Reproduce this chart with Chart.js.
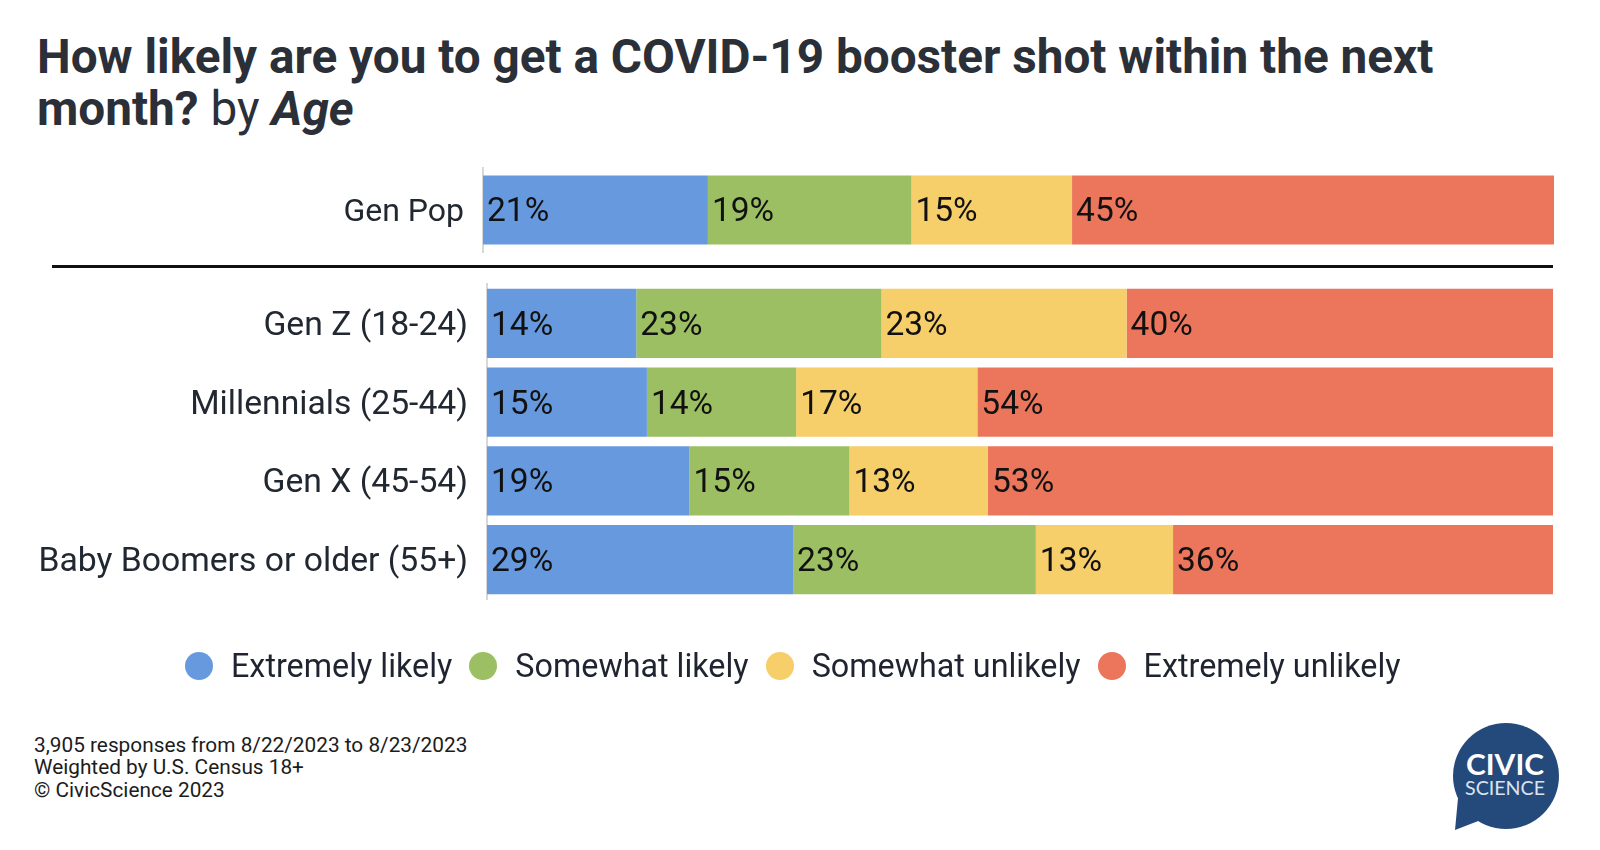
<!DOCTYPE html>
<html>
<head>
<meta charset="utf-8">
<script src="https://cdn.jsdelivr.net/npm/chart.js@4.4.0/dist/chart.umd.min.js"></script>
<style>
  html, body { margin: 0; padding: 0; background: #ffffff; }
  body { width: 1600px; height: 850px; position: relative; overflow: hidden; font-family: Roboto, "Noto Sans", sans-serif; }
  #title { position: absolute; left: 37px; top: 31px; font-size: 47.7px; line-height: 52px; font-weight: 700; color: #2b2f38; white-space: nowrap; }
  #title .by { font-weight: 400; }
  #title .age { font-style: italic; font-weight: 700; }
  #c1 { position: absolute; left: 0; top: 118px; }
  #c2 { position: absolute; left: 0; top: 234px; }
  #sep { position: absolute; left: 52px; top: 265px; width: 1501px; height: 3px; background: #111111; }
  #legend { position: absolute; left: 185px; top: 645px; height: 41px; display: flex; align-items: center; }
  .li { display: flex; align-items: center; margin-right: 17px; }
  .dot { width: 28px; height: 28px; border-radius: 50%; margin-right: 18px; }
  .lt { font-size: 32.3px; color: #1f2430; white-space: nowrap; }
  #footer { position: absolute; left: 34px; top: 734px; font-size: 20.8px; line-height: 22.3px; color: #1c1c1c; }
  #logo { position: absolute; left: 1440px; top: 700px; }
</style>
</head>
<body>
<div id="title">How likely are you to get a COVID-19 booster shot within the next<br>month? <span class="by">by</span> <span class="age">Age</span></div>
<div id="sep"></div>
<canvas id="c1" width="1600" height="184"></canvas>
<canvas id="c2" width="1600" height="415"></canvas>
<div id="legend"></div>
<div id="footer">3,905 responses from 8/22/2023 to 8/23/2023<br>Weighted by U.S. Census 18+<br>© CivicScience 2023</div>
<svg id="logo" width="140" height="140" viewBox="1440 700 140 140">
  <circle cx="1506" cy="776" r="53" fill="#244a7b"/>
  <path d="M1458 798 L1455 830 L1486 818 Z" fill="#244a7b"/>
  <text x="1505" y="775" text-anchor="middle" font-family="Lato, 'Open Sans', sans-serif" font-weight="700" font-size="28" fill="#ffffff" textLength="78" lengthAdjust="spacingAndGlyphs">CIVIC</text>
  <text x="1505" y="795" text-anchor="middle" font-family="Lato, 'Open Sans', sans-serif" font-weight="400" font-size="19" fill="#dbe3ee" textLength="80" lengthAdjust="spacingAndGlyphs">SCIENCE</text>
</svg>
<script>
// ---- data ----
const seriesNames = ['Extremely likely', 'Somewhat likely', 'Somewhat unlikely', 'Extremely unlikely'];
const seriesColors = ['#6799de', '#9bbf62', '#f6ce6a', '#ec765b'];

const totalCategories = ['Gen Pop'];
const genPopValues = [21, 19, 15, 45]; // one value per series

const ageCategories = ['Gen Z (18-24)', 'Millennials (25-44)', 'Gen X (45-54)', 'Baby Boomers or older (55+)'];
const extremelyLikely   = [14, 15, 19, 29];
const somewhatLikely    = [23, 14, 15, 23];
const somewhatUnlikely  = [23, 17, 13, 13];
const extremelyUnlikely = [40, 54, 53, 36];
const ageSeries = [extremelyLikely, somewhatLikely, somewhatUnlikely, extremelyUnlikely];

// ---- legend ----
const legendEl = document.getElementById('legend');
seriesNames.forEach((n, i) => {
  const item = document.createElement('div'); item.className = 'li';
  const d = document.createElement('div'); d.className = 'dot'; d.style.background = seriesColors[i];
  const t = document.createElement('div'); t.className = 'lt'; t.textContent = n;
  item.appendChild(d); item.appendChild(t); legendEl.appendChild(item);
});

// ---- label plugin ----
const segLabels = {
  id: 'segLabels',
  afterDatasetsDraw(chart) {
    const ctx = chart.ctx;
    ctx.save();
    ctx.font = '400 33.5px Roboto, "Noto Sans", sans-serif';
    ctx.fillStyle = '#111111';
    ctx.textAlign = 'left';
    ctx.textBaseline = 'middle';
    chart.data.datasets.forEach((ds, i) => {
      const meta = chart.getDatasetMeta(i);
      meta.data.forEach((bar, j) => {
        const left = Math.min(bar.x, bar.base);
        ctx.fillText(ds.shown[j] + '%', left + 4, bar.y + 3);
      });
    });
    ctx.restore();
  }
};

function makeChart(canvasId, labels, rows, axisWidth, rightPad, catPct, labelSize) {
  const totals = labels.map((_, j) => rows.reduce((s, r) => s + r[j], 0));
  const datasets = rows.map((r, i) => ({
    label: seriesNames[i],
    data: r.map((v, j) => v / totals[j] * 100),
    shown: r,
    backgroundColor: seriesColors[i],
    borderWidth: 0,
    barPercentage: 1,
    categoryPercentage: catPct
  }));
  return new Chart(document.getElementById(canvasId), {
    type: 'bar',
    data: { labels: labels, datasets: datasets },
    options: {
      indexAxis: 'y',
      responsive: false,
      animation: false,
      devicePixelRatio: 1,
      layout: { padding: { top: 50, bottom: 50, left: 0, right: rightPad } },
      plugins: { legend: { display: false }, tooltip: { enabled: false } },
      scales: {
        x: { stacked: true, min: 0, max: 100, display: false },
        y: {
          stacked: true,
          grid: { display: false, drawTicks: false },
          border: { display: true, color: '#d8d8d8', width: 2 },
          ticks: { color: '#222831', font: { family: 'Roboto', size: labelSize }, padding: 19, labelOffset: 3 },
          afterFit(scale) { scale.width = axisWidth; }
        }
      }
    },
    plugins: [segLabels]
  });
}

makeChart('c1', totalCategories, genPopValues.map(v => [v]), 483, 46, 0.82, 32);
makeChart('c2', ageCategories, ageSeries, 487, 47, 0.882, 33.7);
</script>
</body>
</html>
